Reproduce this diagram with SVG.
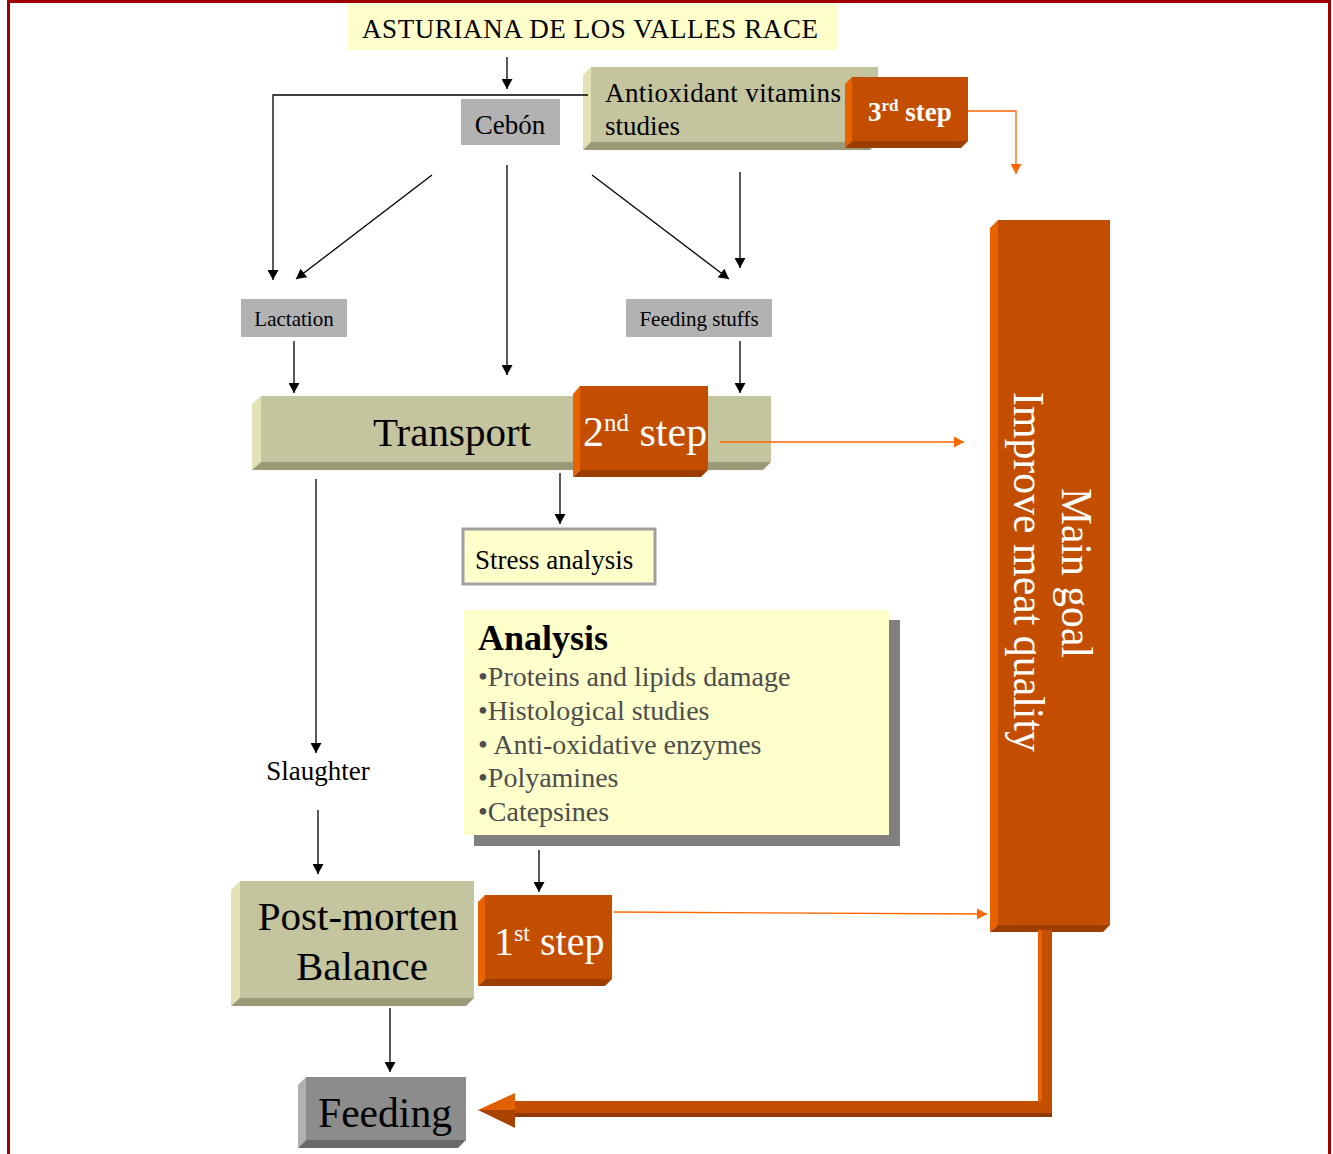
<svg xmlns="http://www.w3.org/2000/svg" width="1333" height="1154" viewBox="0 0 1333 1154">
<style>
text{font-family:"Liberation Serif","Times New Roman",serif;fill:#000}
.face{fill:#c4c49e}.lb{fill:#e2e2b6}.bb{fill:#9a9a78}
.oface{fill:#c44e00}.olb{fill:#e86200}.obb{fill:#9c3e00}
.gray{fill:#b2b2b2}
.ln{fill:none;stroke:#000;stroke-width:1.3}
.oln{fill:none;stroke:#ff6600;stroke-width:1.3}
.bul{fill:#4d4d4d;font-size:28px}
</style>
<defs>
<marker id="ah" markerUnits="userSpaceOnUse" markerWidth="10" markerHeight="11" refX="10" refY="5.5" orient="auto" viewBox="0 0 10 11"><path d="M0,0L10,5.5L0,11z" fill="#000"/></marker>
<marker id="oh" markerUnits="userSpaceOnUse" markerWidth="10" markerHeight="11" refX="10" refY="5.5" orient="auto" viewBox="0 0 10 11"><path d="M0,0L10,5.5L0,11z" fill="#ff6600"/></marker>
</defs>
<rect x="8.5" y="1.5" width="1321" height="1170" fill="#fff" stroke="#a00000" stroke-width="3"/>

<g id="title">
<rect x="348" y="4" width="490" height="46" fill="#ffffcc"/>
<text x="590" y="38" font-size="27" text-anchor="middle" textLength="456">ASTURIANA DE LOS VALLES RACE</text>
</g>

<g id="cebon">
<rect class="gray" x="461" y="99" width="99" height="46"/>
<text x="510" y="134" font-size="27" text-anchor="middle">Cebón</text>
</g>

<g id="antioxidant">
<polygon class="lb" points="583,75 591,67 591,142 583,150"/>
<polygon class="bb" points="583,150 591,142 878,142 870,150"/>
<rect class="face" x="591" y="67" width="287" height="75"/>
<text x="605" y="102" font-size="27" textLength="236">Antioxidant vitamins</text>
<text x="605" y="135" font-size="27">studies</text>
</g>

<g id="step3">
<polygon class="olb" points="845,84 852,77 852,141 845,148"/>
<polygon class="obb" points="845,148 852,141 968,141 961,148"/>
<rect class="oface" x="852" y="77" width="116" height="64"/>
<text x="868" y="121" font-size="27" font-weight="bold" style="fill:#fff">3<tspan font-size="17" dy="-10">rd</tspan><tspan dy="10"> step</tspan></text>
</g>

<g id="lactation">
<rect class="gray" x="241" y="299" width="106" height="38"/>
<text x="294" y="326" font-size="21" text-anchor="middle">Lactation</text>
</g>

<g id="feeding-stuffs">
<rect class="gray" x="626" y="299" width="146" height="38"/>
<text x="699" y="326" font-size="21" text-anchor="middle">Feeding stuffs</text>
</g>

<g id="transport">
<polygon class="lb" points="252,404 261,396 261,462 252,470"/>
<polygon class="bb" points="252,470 261,462 771,462 763,470"/>
<rect class="face" x="261" y="396" width="510" height="66"/>
<text x="452" y="446" font-size="41" text-anchor="middle">Transport</text>
</g>

<g id="step2">
<polygon class="olb" points="573,394 580,386 580,470 573,477"/>
<polygon class="obb" points="573,477 580,470 708,470 701,477"/>
<rect class="oface" x="580" y="386" width="128" height="84"/>
<text x="583" y="446" font-size="42" style="fill:#fff">2<tspan font-size="25" dy="-15">nd</tspan><tspan dy="15"> step</tspan></text>
</g>

<g id="stress">
<rect x="463" y="529" width="192" height="55" fill="#ffffcc" stroke="#a0a0a0" stroke-width="3"/>
<text x="475" y="569" font-size="27">Stress analysis</text>
</g>

<g id="analysis">
<rect x="474" y="620" width="426" height="226" fill="#808080"/>
<rect x="464" y="610" width="425" height="225" fill="#ffffcc"/>
<text x="478" y="650" font-size="36" font-weight="bold">Analysis</text>
<text class="bul" x="478" y="686">•Proteins and lipids damage</text>
<text class="bul" x="478" y="720">•Histological studies</text>
<text class="bul" x="478" y="754">• Anti-oxidative enzymes</text>
<text class="bul" x="478" y="787">•Polyamines</text>
<text class="bul" x="478" y="821">•Catepsines</text>
</g>

<g id="slaughter">
<text x="318" y="780" font-size="27" text-anchor="middle">Slaughter</text>
</g>

<g id="postmorten">
<polygon class="lb" points="231,890 240,881 240,998 231,1006"/>
<polygon class="bb" points="231,1006 240,998 474,998 466,1006"/>
<rect class="face" x="240" y="881" width="234" height="117"/>
<text x="358" y="930" font-size="41" text-anchor="middle">Post-morten</text>
<text x="362" y="980" font-size="41" text-anchor="middle">Balance</text>
</g>

<g id="step1">
<polygon class="olb" points="478,902 485,895 485,979 478,986"/>
<polygon class="obb" points="478,986 485,979 612,979 605,986"/>
<rect class="oface" x="485" y="895" width="127" height="84"/>
<text x="494" y="955" font-size="40" style="fill:#fff">1<tspan font-size="24" dy="-14">st</tspan><tspan dy="14"> step</tspan></text>
</g>

<g id="feeding">
<polygon points="298,1085 306,1077 306,1140 298,1148" fill="#b0b0b0"/>
<polygon points="298,1148 306,1140 466,1140 458,1148" fill="#6a6a6a"/>
<rect x="306" y="1077" width="160" height="63" fill="#8c8c8c"/>
<text x="385" y="1127" font-size="43" text-anchor="middle" textLength="134" lengthAdjust="spacingAndGlyphs">Feeding</text>
</g>

<g id="main-goal">
<polygon class="olb" points="990,228 998,220 998,925 990,932"/>
<polygon class="obb" points="990,932 998,925 1110,925 1103,932"/>
<rect class="oface" x="998" y="220" width="112" height="705"/>
<text transform="translate(1062,573) rotate(90)" x="0" y="0" font-size="45" text-anchor="middle" textLength="170" lengthAdjust="spacingAndGlyphs" style="fill:#fff">Main goal</text>
<text transform="translate(1014,572) rotate(90)" x="0" y="0" font-size="45" text-anchor="middle" textLength="360" lengthAdjust="spacingAndGlyphs" style="fill:#fff">Improve meat quality</text>
</g>

<g id="connectors">
<path class="ln" marker-end="url(#ah)" d="M507,57V89"/>
<path class="ln" marker-end="url(#ah)" d="M588,95H273V280"/>
<path class="ln" marker-end="url(#ah)" d="M432,175L296,279"/>
<path class="ln" marker-end="url(#ah)" d="M507,165V375"/>
<path class="ln" marker-end="url(#ah)" d="M592,175L729,279"/>
<path class="ln" marker-end="url(#ah)" d="M740,172V268"/>
<path class="ln" marker-end="url(#ah)" d="M294,341V393"/>
<path class="ln" marker-end="url(#ah)" d="M740,341V393"/>
<path class="ln" marker-end="url(#ah)" d="M560,473V524"/>
<path class="ln" marker-end="url(#ah)" d="M316,479V753"/>
<path class="ln" marker-end="url(#ah)" d="M318,810V874"/>
<path class="ln" marker-end="url(#ah)" d="M539,850V892"/>
<path class="ln" marker-end="url(#ah)" d="M390,1008V1072"/>
<path class="oln" marker-end="url(#oh)" d="M968,111H1016V174"/>
<path class="oln" marker-end="url(#oh)" d="M720,442H964"/>
<path class="oln" marker-end="url(#oh)" d="M614,912L987,914"/>
<g id="big-arrow">
<path d="M1038,930H1052V1117H515V1101H1038Z" fill="#c44e00"/>
<path d="M1038,930H1042V1101H1038Z" fill="#e86200"/>
<path d="M515,1113H1052V1117H515Z" fill="#8e3a00"/>
<path d="M478,1110L515,1093V1110Z" fill="#e06000"/>
<path d="M478,1110L515,1110V1128Z" fill="#a84200"/>
</g>
</g>
</svg>
